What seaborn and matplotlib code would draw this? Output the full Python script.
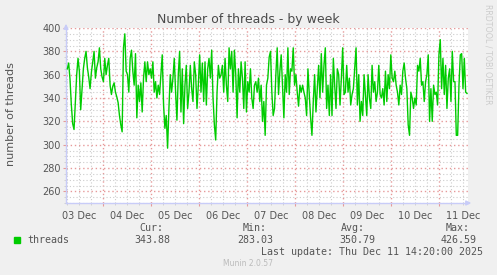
import numpy as np
import pandas as pd
import matplotlib
matplotlib.use("Agg")
import matplotlib.pyplot as plt
import matplotlib.dates as mdates
from matplotlib.ticker import MultipleLocator, FuncFormatter
import seaborn as sns

# ---- data ----
day1 = [365, 370, 356, 334, 318, 313, 337, 360, 374, 363, 330, 348, 365, 374, 380, 366,
        358, 348, 362, 371, 380, 357, 366, 371, 383, 365, 358, 354, 374, 360, 368, 374,
        351, 343, 350, 353, 345, 341, 336, 325, 317, 311, 383, 395, 363, 360, 345, 374,
        381, 363]
day2 = [351, 378, 323, 351, 337, 353, 328, 357, 371, 354, 371, 360, 365, 357, 371, 345,
        354, 340, 351, 343, 360, 377, 334, 314, 325, 297, 331, 360, 345, 357, 374, 345,
        321, 360, 380, 328, 365, 318, 351, 368, 331, 345, 368, 348, 337, 371, 360, 331,
        351, 377]
day3 = [345, 370, 337, 371, 334, 365, 374, 357, 381, 340, 317, 304, 345, 368, 357, 360,
        368, 345, 374, 351, 337, 383, 365, 380, 345, 381, 360, 323, 365, 345, 371, 357,
        331, 371, 328, 354, 345, 365, 340, 331, 351, 354, 345, 357, 337, 351, 320, 337,
        308, 351, 357, 375]
day4 = [380, 345, 325, 331, 360, 383, 343, 363, 377, 351, 323, 360, 345, 383, 343, 365,
        363, 383, 351, 360, 345, 333, 351, 345, 351, 345, 340, 325, 365, 343, 323, 308,
        337, 360, 328, 348, 368, 340, 378, 345, 368, 383, 331, 351, 325, 360, 325, 374,
        351, 331, 365]
day5 = [360, 334, 357, 383, 343, 345, 368, 345, 357, 334, 343, 348, 365, 383, 334, 360,
        320, 337, 325, 360, 343, 325, 360, 340, 331, 368, 345, 354, 337, 345, 368, 343,
        340, 348, 334, 363, 337, 360, 348, 377, 357, 354, 363, 351, 345, 334, 351, 343,
        363, 370, 357]
day6 = [348, 317, 308, 345, 340, 331, 340, 334, 368, 363, 374, 351, 354, 337, 354, 360,
        377, 320, 348, 320, 351, 343, 345, 334, 377, 390, 348, 374, 343, 368, 331, 357,
        365, 337, 380, 354, 354, 308, 308, 351, 377, 378, 348, 374, 345, 343.88]
threads = day1 + day2 + day3 + day4 + day5 + day6
first_sample = "2025-12-03 06:10"
last_sample = "2025-12-11 14:00"
x_start, x_end = "2025-12-03 05:30", "2025-12-11 14:30"
y_min, y_max = 250, 400

title = "Number of threads - by week"
ylabel = "number of threads"
legend_name = "threads"
stats_labels = ["Cur:", "Min:", "Avg:", "Max:"]
stats_values = ["343.88", "283.03", "350.79", "426.59"]
last_update = "Last update: Thu Dec 11 14:20:00 2025"
footer = "Munin 2.0.57"
side_text = "RRDTOOL / TOBI OETIKER"

df = pd.DataFrame({
    "time": pd.date_range(first_sample, last_sample, periods=len(threads)),
    "threads": threads,
})

# ---- figure ----
W, H = 497, 275
bg = "#F0F0F0"
txt = "#555555"
green = "#00CC00"
fig = plt.figure(figsize=(W / 100, H / 100), dpi=100, facecolor=bg)
ax = fig.add_axes([66 / W, 1 - 203 / H, 402 / W, 175 / H])
ax.set_facecolor("white")

sns.lineplot(data=df, x="time", y="threads", ax=ax, color=green, linewidth=1.0, zorder=3)

ax.set_xlim(pd.Timestamp(x_start), pd.Timestamp(x_end))
ax.set_ylim(y_min, y_max)

# grid: major red dotted, minor gray dotted
ax.xaxis.set_major_locator(mdates.DayLocator())
ax.xaxis.set_minor_locator(mdates.HourLocator(byhour=[6, 12, 18]))
ax.xaxis.set_major_formatter(FuncFormatter(lambda v, p: ""))
def minor_fmt(v, p):
    d = mdates.num2date(v)
    return d.strftime("%d %b") if d.hour == 12 else ""
ax.xaxis.set_minor_formatter(FuncFormatter(minor_fmt))
ax.yaxis.set_major_locator(MultipleLocator(20))
ax.yaxis.set_minor_locator(MultipleLocator(5))

red = (0.9, 0.6, 0.6)
gray = (0.8, 0.8, 0.8)
ax.grid(which="major", color=red, linestyle=(0, (1, 2)), linewidth=1.0, zorder=1)
ax.grid(which="minor", color=gray, linestyle=(0, (1, 2)), linewidth=0.8, zorder=1)
ax.set_axisbelow(True)

ax.tick_params(axis="both", which="major", length=2, width=0.8, color=red,
               labelsize=7, labelcolor=txt, pad=2)
ax.tick_params(axis="both", which="minor", length=1.5, width=0.6, color=gray,
               labelsize=7, labelcolor=txt, pad=4)
ax.tick_params(axis="y", which="minor", labelleft=False)

for s in ["top", "right"]:
    ax.spines[s].set_visible(False)
axis_col = "#C8CCF8"
for s in ["left", "bottom"]:
    ax.spines[s].set_color(axis_col)
    ax.spines[s].set_linewidth(1.0)
# axis arrows
ax.annotate("", xy=(0, 1.04), xytext=(0, 0.98), xycoords="axes fraction",
            arrowprops=dict(arrowstyle="-|>", color=axis_col, lw=1.0, mutation_scale=7),
            annotation_clip=False)
ax.annotate("", xy=(1.015, 0), xytext=(0.99, 0), xycoords="axes fraction",
            arrowprops=dict(arrowstyle="-|>", color=axis_col, lw=1.0, mutation_scale=7),
            annotation_clip=False)

ax.set_xlabel("")
ax.set_ylabel("")

def px(x, y):
    return x / W, 1 - y / H

fig.text(*px(248.5, 19), title, ha="center", va="center", fontsize=9, color="#4a4a4a")
fig.text(*px(11, 114), ylabel, ha="center", va="center", rotation=90, fontsize=8, color=txt)
fig.text(*px(488, 54), side_text, ha="center", va="center", rotation=270,
         fontsize=5.7, color="#CCCCCC")

mono = "DejaVu Sans Mono"
fig.patches.append(plt.Rectangle(px(14, 243.3), 6 / W, 6 / H, transform=fig.transFigure,
                                 color=green, figure=fig))
fig.text(*px(27, 240), legend_name, ha="left", va="center", fontsize=7.2,
         family=mono, color=txt)
label_right = [163, 267, 365, 470]
value_right = [170, 273, 375, 477]
for lab, val, lr, vr in zip(stats_labels, stats_values, label_right, value_right):
    fig.text(*px(lr, 228), lab, ha="right", va="center", fontsize=7.2, family=mono, color=txt)
    fig.text(*px(vr, 240), val, ha="right", va="center", fontsize=7.2, family=mono, color=txt)
fig.text(*px(483, 252), last_update, ha="right", va="center", fontsize=7.2,
         family=mono, color=txt)
fig.text(*px(248, 264), footer, ha="center", va="center", fontsize=5.5, color="#BBBBBB")

fig.savefig("out.png", dpi=100, facecolor=bg)
